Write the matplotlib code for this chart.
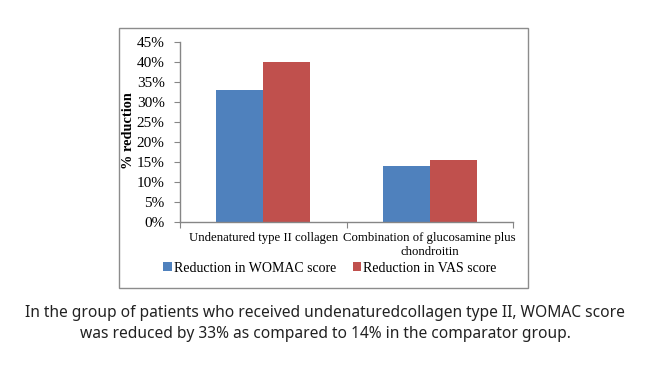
import matplotlib
matplotlib.use("Agg")
import matplotlib.pyplot as plt
from matplotlib.patches import Rectangle
from matplotlib.ticker import PercentFormatter
import numpy as np

categories = ["Undenatured type II collagen", "Combination of glucosamine plus\nchondroitin"]
womac = [0.33, 0.14]
vas = [0.40, 0.154]
series_names = ["Reduction in WOMAC score", "Reduction in VAS score"]
y_ticks = [0, 0.05, 0.10, 0.15, 0.20, 0.25, 0.30, 0.35, 0.40, 0.45]
caption = ("In the group of patients who received undenaturedcollagen type II, WOMAC score\n"
           "was reduced by 33% as compared to 14% in the comparator group.")

W, H = 650, 365
fig = plt.figure(figsize=(W / 100, H / 100), dpi=100)
serif = "Liberation Serif"

# outer border of chart
fig.patches.append(Rectangle((119 / W, 1 - 288 / H), (528 - 119) / W, (288 - 28) / H,
                             transform=fig.transFigure, fill=False, edgecolor="#8c8c8c", linewidth=1.0))

ax = fig.add_axes([180 / W, 1 - 222 / H, (513 - 180) / W, (222 - 42) / H])
x = np.arange(len(categories))
bw = 0.283
b1 = ax.bar(x - bw / 2, womac, bw, color="#4F81BD", label=series_names[0])
b2 = ax.bar(x + bw / 2, vas, bw, color="#C0504D", label=series_names[1])

ax.set_xlim(-0.5, len(categories) - 0.5)
ax.set_ylim(0, 0.45)
ax.set_yticks(y_ticks)
ax.yaxis.set_major_formatter(PercentFormatter(1.0, decimals=0))
for s in ["top", "right"]:
    ax.spines[s].set_visible(False)
for s in ["left", "bottom"]:
    ax.spines[s].set_color("#868686")
    ax.spines[s].set_linewidth(1.0)

ax.set_xticks(np.arange(-0.5, len(categories), 1.0))
ax.set_xticklabels([])
ax.set_xticks(x, minor=True)
ax.set_xticklabels(categories, minor=True, fontfamily=serif, fontsize=9.2, linespacing=1.3)
ax.tick_params(axis="x", which="major", length=4, color="#868686", direction="out")
ax.tick_params(axis="x", which="minor", length=0, pad=7)
ax.tick_params(axis="y", length=4, color="#868686", direction="out", pad=7)
for t in ax.get_yticklabels():
    t.set_fontfamily(serif)
    t.set_fontsize(11)

fig.text(129 / W, 1 - 131 / H, "% reduction", rotation=90, ha="center", va="center",
         fontfamily=serif, fontweight="bold", fontsize=10.3)

fig.legend(handles=[b1, b2], labels=series_names, loc="center", bbox_to_anchor=(330 / W, 1 - 268 / H),
           ncol=2, frameon=False, prop={"family": serif, "size": 10}, handlelength=0.6,
           handleheight=0.6, handletextpad=0.15, columnspacing=1.2, borderpad=0.0)

fig.text(0.5, 1 - 323.5 / H, caption, ha="center", va="center", fontfamily="Noto Sans",
         fontsize=11.2, color="#222222", linespacing=1.4)

fig.savefig("out.png", dpi=100)
